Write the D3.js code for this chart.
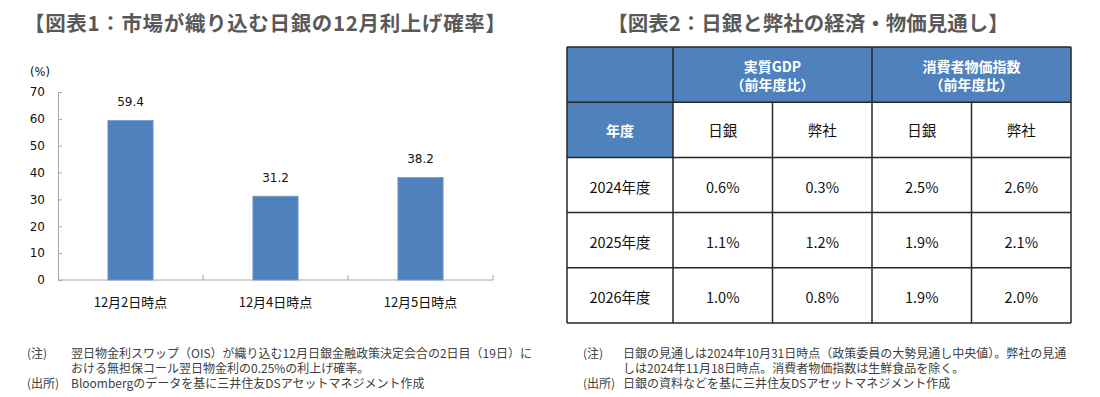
<!DOCTYPE html>
<html><head><meta charset="utf-8">
<script src="https://cdn.jsdelivr.net/npm/d3@7"></script>
<style>
html,body{margin:0;padding:0;background:#fff;}
svg{display:block;}
</style></head>
<body>
<script>
// ---- Data ----
const chart1Title = "【図表1：市場が織り込む日銀の12月利上げ確率】";
const categories = ["12月2日時点", "12月4日時点", "12月5日時点"];
const probabilities = [59.4, 31.2, 38.2];
const yTicks = [0, 10, 20, 30, 40, 50, 60, 70];
const yUnit = "(%)";
const notes1 = [
  ["(注)", "翌日物金利スワップ（OIS）が織り込む12月日銀金融政策決定会合の2日目（19日）に"],
  ["", "おける無担保コール翌日物金利の0.25%の利上げ確率。"],
  ["(出所)", "Bloombergのデータを基に三井住友DSアセットマネジメント作成"]
];

const chart2Title = "【図表2：日銀と弊社の経済・物価見通し】";
const groupHeaders = [["実質GDP", "（前年度比）"], ["消費者物価指数", "（前年度比）"]];
const rowHeader = "年度";
const subHeaders = ["日銀", "弊社", "日銀", "弊社"];
const fiscalYears = ["2024年度", "2025年度", "2026年度"];
const gdpBoj  = [0.6, 1.1, 1.0];
const gdpOurs = [0.3, 1.2, 0.8];
const cpiBoj  = [2.5, 1.9, 1.9];
const cpiOurs = [2.6, 2.1, 2.0];
const notes2 = [
  ["(注)", "日銀の見通しは2024年10月31日時点（政策委員の大勢見通し中央値）。弊社の見通"],
  ["", "しは2024年11月18日時点。消費者物価指数は生鮮食品を除く。"],
  ["(出所)", "日銀の資料などを基に三井住友DSアセットマネジメント作成"]
];

// ---- Drawing ----
const FONT = "'Noto Sans CJK JP','Noto Sans',sans-serif";
const BLUE = "#4F81BD";
const svg = d3.select("body").append("svg").attr("width", 1100).attr("height", 397)
  .style("font-family", FONT);

// Titles
svg.append("text").attr("x", 24).attr("y", 22).attr("dominant-baseline", "central")
  .attr("font-size", 20.5).attr("font-weight", "bold").attr("fill", "#595959")
  .attr("textLength", 482).attr("lengthAdjust", "spacing").text(chart1Title);
svg.append("text").attr("x", 808).attr("y", 22).attr("dominant-baseline", "central")
  .attr("text-anchor", "middle")
  .attr("font-size", 20.5).attr("font-weight", "bold").attr("fill", "#595959").text(chart2Title);

// Chart 1
const x = d3.scaleBand().domain(categories).range([58, 493]).padding(0);
const y = d3.scaleLinear().domain([0, 70]).range([280, 92]);
const barW = x.bandwidth() * 0.312;
const g1 = svg.append("g");

const yAxis = d3.axisLeft(y).tickValues(yTicks).tickSize(-4).tickSizeOuter(0).tickPadding(13);
const ya = g1.append("g").attr("transform", `translate(${x.range()[0]},0)`).call(yAxis);
ya.selectAll("path,line").attr("stroke", "#a6a6a6");
ya.selectAll("text").attr("font-family", "'DejaVu Sans',sans-serif").attr("font-size", 12).attr("fill", "#111");

g1.append("text").attr("x", 30).attr("y", 72).attr("dominant-baseline", "central")
  .attr("font-family", "'DejaVu Sans',sans-serif").attr("font-size", 11.5).attr("fill", "#111").text(yUnit);

// baseline
g1.append("line").attr("x1", x.range()[0]).attr("x2", x.range()[1])
  .attr("y1", y(0)).attr("y2", y(0)).attr("stroke", "#a6a6a6");
g1.selectAll(".sep").data(categories).enter().append("line")
  .attr("x1", d => x(d) + x.bandwidth()).attr("x2", d => x(d) + x.bandwidth())
  .attr("y1", y(0)).attr("y2", y(0) - 5).attr("stroke", "#a6a6a6");

const bars = categories.map((c, i) => ({c, v: probabilities[i]}));
g1.selectAll(".bar").data(bars).enter().append("rect")
  .attr("x", d => x(d.c) + x.bandwidth() / 2 - barW / 2)
  .attr("width", barW)
  .attr("y", d => y(d.v)).attr("height", d => y(0) - y(d.v))
  .attr("fill", BLUE).attr("stroke", "#7a9ccc").attr("stroke-width", 0.8);

g1.selectAll(".vl").data(bars).enter().append("text")
  .attr("x", d => x(d.c) + x.bandwidth() / 2).attr("y", d => y(d.v) - 18.5)
  .attr("text-anchor", "middle").attr("dominant-baseline", "central")
  .attr("font-family", "'DejaVu Sans',sans-serif").attr("font-size", 12).attr("fill", "#111")
  .text(d => d.v.toFixed(1));

g1.selectAll(".cl").data(categories).enter().append("text")
  .attr("x", d => x(d) + x.bandwidth() / 2).attr("y", 301)
  .attr("text-anchor", "middle").attr("dominant-baseline", "central")
  .attr("font-size", 13).attr("fill", "#111").text(d => d);

function drawNotes(notes, xl, xt) {
  const ny = d3.scaleLinear().domain([0, 2]).range([352, 382]);
  notes.forEach((n, i) => {
    if (n[0]) svg.append("text").attr("x", xl).attr("y", ny(i)).attr("dominant-baseline", "central")
      .attr("font-size", 12).attr("fill", "#404040").text(n[0]);
    svg.append("text").attr("x", xt).attr("y", ny(i)).attr("dominant-baseline", "central")
      .attr("font-size", 12).attr("fill", "#404040").text(n[1]);
  });
}
drawNotes(notes1, 27, 71);
drawNotes(notes2, 583, 623);

// Table
const tX0 = 567, tX1 = 673, tX2 = 1071;
const colX = d3.scaleBand().domain(d3.range(4)).range([tX1, tX2]);
const rowY = d3.scaleBand().domain(d3.range(5)).range([47, 323]);
const t = svg.append("g");
const cw = colX.bandwidth(), rh = rowY.bandwidth();
const BORDER = "#262626";

// header blue cells
t.append("rect").attr("x", tX0).attr("y", rowY(0)).attr("width", tX2 - tX0).attr("height", rh).attr("fill", BLUE);
t.append("rect").attr("x", tX0).attr("y", rowY(1)).attr("width", tX1 - tX0).attr("height", rh).attr("fill", BLUE);

// group headers
groupHeaders.forEach((gh, i) => {
  const cx = colX(i * 2) + cw;
  gh.forEach((line, j) => {
    t.append("text").attr("x", cx).attr("y", rowY(0) + rh / 2 + (j === 0 ? -9 : 9))
      .attr("text-anchor", "middle").attr("dominant-baseline", "central")
      .attr("font-size", 14).attr("font-weight", "bold").attr("fill", "#fff").text(line);
  });
});
t.append("text").attr("x", (tX0 + tX1) / 2).attr("y", rowY(1) + rh / 2)
  .attr("text-anchor", "middle").attr("dominant-baseline", "central")
  .attr("font-size", 14).attr("font-weight", "bold").attr("fill", "#fff").text(rowHeader);
subHeaders.forEach((s, i) => {
  t.append("text").attr("x", colX(i) + cw / 2).attr("y", rowY(1) + rh / 2)
    .attr("text-anchor", "middle").attr("dominant-baseline", "central")
    .attr("font-size", 14.5).attr("fill", "#111").text(s);
});
const series = [gdpBoj, gdpOurs, cpiBoj, cpiOurs];
fiscalYears.forEach((fy, r) => {
  const cy = rowY(r + 2) + rh / 2 + 1;
  t.append("text").attr("x", (tX0 + tX1) / 2).attr("y", cy)
    .attr("text-anchor", "middle").attr("dominant-baseline", "central")
    .attr("font-size", 14.5).attr("fill", "#111").text(fy);
  series.forEach((s, c) => {
    t.append("text").attr("x", colX(c) + cw / 2).attr("y", cy)
      .attr("text-anchor", "middle").attr("dominant-baseline", "central")
      .attr("font-size", 14.5).attr("fill", "#111").text(s[r].toFixed(1) + "%");
  });
});

// grid lines
const lineG = t.append("g").attr("stroke", BORDER).attr("stroke-width", 1.5);
d3.range(6).forEach(k => {
  const yy = k < 5 ? rowY(k) : rowY(4) + rh;
  lineG.append("line").attr("x1", tX0).attr("x2", tX2).attr("y1", yy).attr("y2", yy);
});
[tX0, tX1, tX2].forEach(xx => lineG.append("line").attr("x1", xx).attr("x2", xx).attr("y1", rowY(0)).attr("y2", rowY(4) + rh));
lineG.append("line").attr("x1", colX(2)).attr("x2", colX(2)).attr("y1", rowY(0)).attr("y2", rowY(4) + rh);
[1, 3].forEach(c => lineG.append("line").attr("x1", colX(c)).attr("x2", colX(c)).attr("y1", rowY(1)).attr("y2", rowY(4) + rh));
</script>
</body></html>
